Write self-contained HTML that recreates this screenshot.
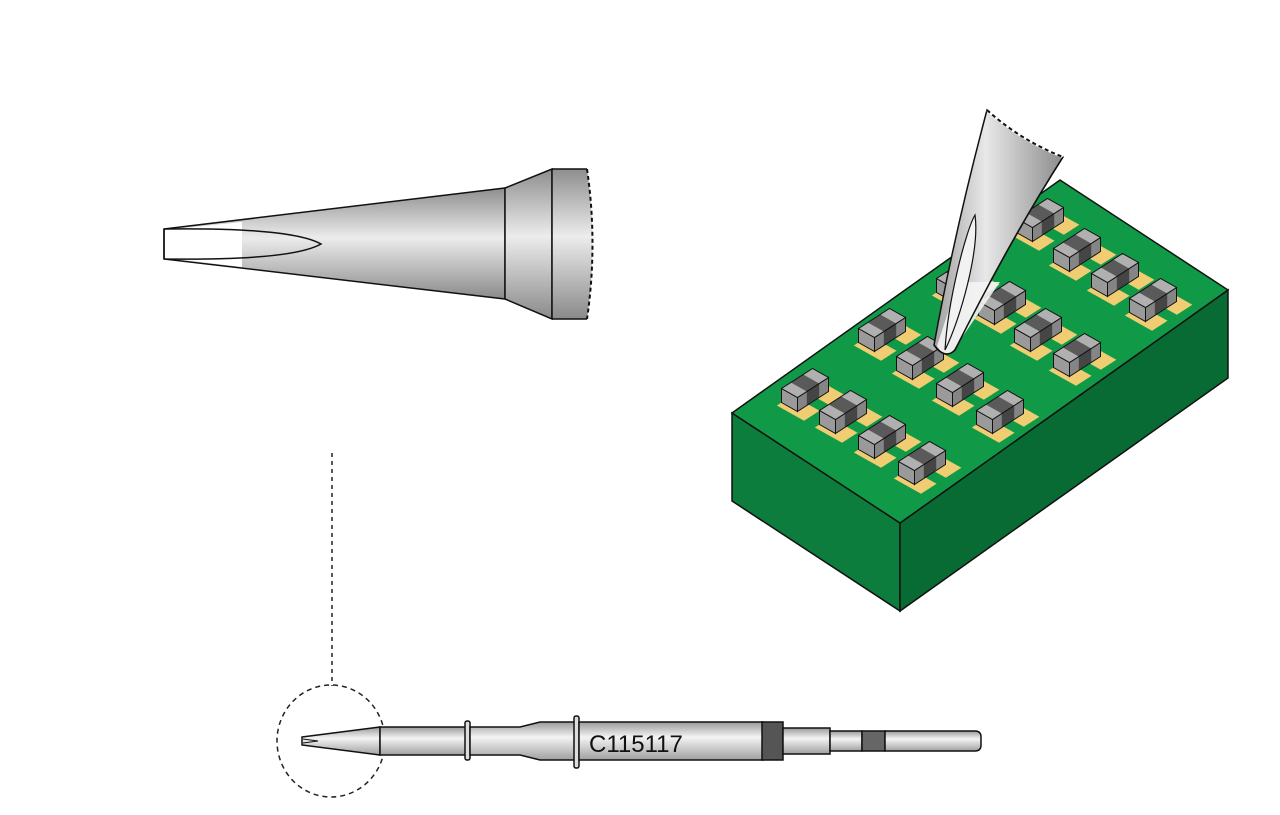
<!DOCTYPE html>
<html><head><meta charset="utf-8"><style>html,body{margin:0;padding:0;background:#fff;width:1280px;height:815px;overflow:hidden}</style></head>
<body>
<svg width="1280" height="815" viewBox="0 0 1280 815" xmlns="http://www.w3.org/2000/svg">
<defs>
<linearGradient id="g" x1="0" y1="0" x2="0" y2="1">
<stop offset="0" stop-color="#8e8e8e"/><stop offset="0.45" stop-color="#ececec"/><stop offset="1" stop-color="#8a8a8a"/>
</linearGradient>
<linearGradient id="gs" x1="0" y1="0" x2="0" y2="1">
<stop offset="0" stop-color="#9a9a9a"/><stop offset="0.4" stop-color="#f4f4f4"/><stop offset="1" stop-color="#a0a0a0"/>
</linearGradient>
<linearGradient id="gt" x1="0" y1="0" x2="1" y2="0">
<stop offset="0" stop-color="#a0a0a0"/><stop offset="0.4" stop-color="#e8e8e8"/><stop offset="1" stop-color="#8c8c8c"/>
</linearGradient>
<g id="chip">
<polygon points="-28.15,8.5 -12.65,-1.5 14.55,13.8 -0.95,23.8" fill="#f0cd72"/>
<polygon points="-3.35,-7.5 12.15,-17.5 39.35,-2.2 23.85,7.8" fill="#f0cd72"/>
<polygon points="-23.5,-8.5 -7.5,0.5 -7.5,14.5 -23.5,5.5" fill="#9a9a9a" stroke="#111" stroke-width="1"/>
<polygon points="-7.5,0.5 23.5,-19.5 23.5,-5.5 -7.5,14.5" fill="#454545"/>
<polygon points="-7.5,0.5 1.8,-5.5 1.8,8.5 -7.5,14.5" fill="#858585"/>
<polygon points="14.2,-13.5 23.5,-19.5 23.5,-5.5 14.2,0.5" fill="#858585"/>
<polygon points="-7.5,0.5 23.5,-19.5 23.5,-5.5 -7.5,14.5" fill="none" stroke="#111" stroke-width="1"/>
<polygon points="-23.5,-8.5 7.5,-28.5 23.5,-19.5 -7.5,0.5" fill="#5a5a5a"/>
<polygon points="-23.5,-8.5 -14.2,-14.5 1.8,-5.5 -7.5,0.5" fill="#b0b0b0"/>
<polygon points="-1.8,-22.5 7.5,-28.5 23.5,-19.5 14.2,-13.5" fill="#b0b0b0"/>
<polygon points="-23.5,-8.5 7.5,-28.5 23.5,-19.5 -7.5,0.5" fill="none" stroke="#111" stroke-width="1"/>
</g>
</defs>

<!-- big tip -->
<polygon points="164,229 505,188 505,299 164,259" fill="url(#g)" stroke="#111" stroke-width="1.5"/>
<polygon points="505,188 552,169 552,319 505,299" fill="url(#g)" stroke="#111" stroke-width="1.5"/>
<path d="M552,169 L587,169 Q598,244 587,319 L552,319 Z" fill="url(#g)"/>
<path d="M552,169 L587,169 M552,319 L587,319 M552,169 L552,319" stroke="#111" stroke-width="1.5" fill="none"/>
<path d="M587,169 Q598,244 587,319" stroke="#111" stroke-width="2" fill="none" stroke-dasharray="4,3"/>
<polygon points="165,230 242,222 242,267 165,258" fill="#fff"/>
<path d="M164,229 L164,259 M164,229 C240,228 300,232 321,244 C300,256 240,260 164,259" stroke="#111" stroke-width="1.5" fill="none"/>

<!-- dashed connector -->
<line x1="332" y1="453" x2="332" y2="686" stroke="#222" stroke-width="1.5" stroke-dasharray="4,4"/>
<ellipse cx="331" cy="741" rx="54" ry="56" fill="none" stroke="#222" stroke-width="1.5" stroke-dasharray="5,4"/>

<!-- small tool -->
<polygon points="302,737 380,727 380,755 302,745" fill="url(#gs)" stroke="#111" stroke-width="1.5"/>
<path d="M303,739 L318,741 L303,743" stroke="#111" fill="none" stroke-width="1"/>
<rect x="380" y="727" width="88" height="28" fill="url(#gs)" stroke="#111" stroke-width="1.5"/>
<rect x="465" y="721" width="5" height="39" rx="2" fill="#ddd" stroke="#111" stroke-width="1.5"/>
<path d="M470,727 L520,727 L540,722 L576,722 L576,760 L540,760 L520,755 L470,755 Z" fill="url(#gs)" stroke="#111" stroke-width="1.5"/>
<rect x="574" y="716" width="5" height="52" rx="2" fill="#ddd" stroke="#111" stroke-width="1.5"/>
<rect x="579" y="722" width="184" height="38" fill="url(#gs)" stroke="#111" stroke-width="1.5"/>
<rect x="762" y="722" width="21" height="38" fill="#555" stroke="#111" stroke-width="1.5"/>
<rect x="783" y="728" width="47" height="26" fill="url(#gs)" stroke="#111" stroke-width="1.5"/>
<rect x="830" y="731" width="32" height="20" fill="url(#gs)" stroke="#111" stroke-width="1.5"/>
<rect x="862" y="731" width="23" height="20" fill="#666" stroke="#111" stroke-width="1.5"/>
<path d="M885,731 L975,731 Q981,731 981,737 L981,745 Q981,751 975,751 L885,751 Z" fill="url(#gs)" stroke="#111" stroke-width="1.5"/>
<text x="589" y="752" font-family="Liberation Sans, sans-serif" font-size="24" fill="#111">C115117</text>

<!-- board -->
<polygon points="732,413 900,523 900,611 732,501" fill="#0c7d3c" stroke="#111" stroke-width="1.5"/>
<polygon points="900,523 1228,290 1228,378 900,611" fill="#086b33" stroke="#111" stroke-width="1.5"/>
<polygon points="732,413 1060,180 1228,290 900,523" fill="#109a48" stroke="#111" stroke-width="1.5"/>

<use href="#chip" x="1040" y="227"/>
<use href="#chip" x="1077" y="257"/>
<use href="#chip" x="1115" y="282"/>
<use href="#chip" x="1153" y="307"/>
<use href="#chip" x="960" y="287"/>
<use href="#chip" x="1002" y="310"/>
<use href="#chip" x="1038" y="337"/>
<use href="#chip" x="1077" y="362"/>
<use href="#chip" x="882" y="337"/>
<use href="#chip" x="920" y="365"/>
<use href="#chip" x="960" y="392"/>
<use href="#chip" x="1000" y="419"/>
<use href="#chip" x="805" y="397"/>
<use href="#chip" x="843" y="419"/>
<use href="#chip" x="882" y="444"/>
<use href="#chip" x="922" y="470"/>

<!-- tip over board -->
<path d="M987,110 Q1020,140 1063,157 Q1010,240 955,350 Q945,360 934,345 Q955,230 987,110 Z" fill="url(#gt)" stroke="#111" stroke-width="1.5"/>
<path d="M987,110 Q1020,140 1063,157" stroke="#fff" stroke-width="2.5" fill="none"/>
<path d="M987,110 Q1020,140 1063,157" stroke="#111" stroke-width="2" fill="none" stroke-dasharray="4,3"/>
<path d="M958,282 L1000,282 L952,352 Q944,358 937,346 Z" fill="#f4f4f4" opacity="0.9"/>
<path d="M975,215 C966,230 948,300 945,350 C960,320 980,250 975,215 Z" fill="#f2f2f2" stroke="#111" stroke-width="1.2"/>
<path d="M1063,157 Q1010,240 955,350 Q945,360 934,345" stroke="#111" stroke-width="1.5" fill="none"/>
</svg>
</body></html>
